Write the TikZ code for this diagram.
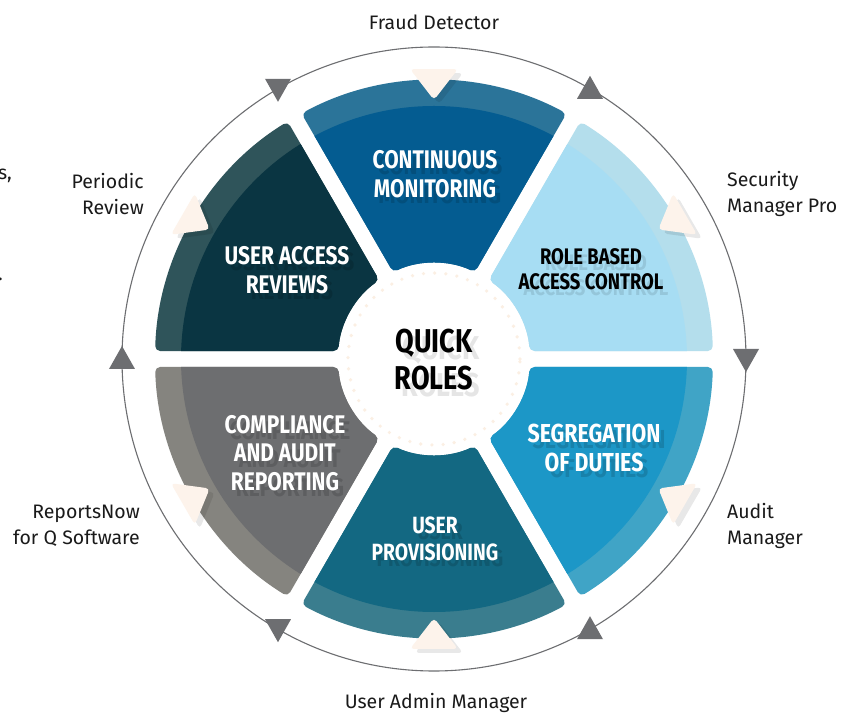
\documentclass[tikz,border=0pt]{standalone}
\usepackage{fontspec}
\setmainfont{Fira Sans}
\newfontfamily\capsfont{Fira Sans}[FakeStretch=0.82]
\definecolor{cmMain}{HTML}{045C91}
\definecolor{cmBand}{HTML}{2B7499}
\definecolor{rbMain}{HTML}{A7DDF3}
\definecolor{rbBand}{HTML}{B4DEEC}
\definecolor{sgMain}{HTML}{1C97C7}
\definecolor{sgBand}{HTML}{40A4C6}
\definecolor{upMain}{HTML}{136882}
\definecolor{upBand}{HTML}{3A7D8E}
\definecolor{caMain}{HTML}{6D6E70}
\definecolor{caBand}{HTML}{85847F}
\definecolor{uaMain}{HTML}{0A3542}
\definecolor{uaBand}{HTML}{2F545A}
\definecolor{paleTri}{HTML}{FDF3EB}
\definecolor{dotCol}{HTML}{FBEFE3}
\definecolor{arrowGray}{HTML}{6D6E71}
\definecolor{txtCol}{HTML}{1A1A1A}
\tikzset{
  outerlbl/.style={text=txtCol, font=\fontsize{19.5}{26}\selectfont, inner sep=0pt},
  seclbl/.style={align=center, inner sep=0pt, font=\capsfont\bfseries\fontsize{#1}{\dimexpr #1pt*112/100\relax}\selectfont},
  shadowtxt/.style={text=black, text opacity=0.14},
}
\begin{document}
\begin{tikzpicture}[x=1pt,y=1pt]
\useasboundingbox (-434,-355) rectangle (422,359);
\fill[white] (-434,-355) rectangle (422,359);

% outer ring
\draw[arrowGray, line width=1.1pt] (0,0) circle (312);

% sectors
\foreach \a/\mc/\bc in {60/cmMain/cmBand, 0/rbMain/rbBand, -60/sgMain/sgBand, -120/upMain/upBand, 180/caMain/caBand, 120/uaMain/uaBand}{
  \pgfmathsetmacro\ao{\a+1.64}
  \pgfmathsetmacro\bo{\a+60-1.64}
  \pgfmathsetmacro\ai{\a+4.78}
  \pgfmathsetmacro\bi{\a+60-4.78}
  \begin{scope}
    \clip[rounded corners=5pt] (\ao:279) arc[start angle=\ao, end angle=\bo, radius=279] -- (\bi:96) arc[start angle=\bi, end angle=\ai, radius=96] -- cycle;
    \fill[\bc] (0,0) circle (290);
    \fill[\mc] (0,0) circle (253);
  \end{scope}
  % pale inward triangle
  \pgfmathsetmacro\t{\a+30}
  \pgfmathsetmacro\tl{\t+4.73}
  \pgfmathsetmacro\tr{\t-4.73}
  \begin{scope}[shift={(5,-4)}]
    \fill[black, opacity=0.09, rounded corners=4pt] (\t:259) -- (\tl:291) -- (\tr:291) -- cycle;
  \end{scope}
  \fill[paleTri, rounded corners=4pt] (\t:259) -- (\tl:291) -- (\tr:291) -- cycle;
}

% ring arrows
\foreach \t/\s in {0/1, 60/-1, 120/1, 180/-1, 240/1, 300/-1}{
  \begin{scope}[shift={(\t:312)}, yscale=\s]
    \fill[arrowGray] (-13,10) -- (13,10) -- (0,-13) -- cycle;
  \end{scope}
}

% center
\fill[white] (0,0) circle (92);
\draw[dotCol, line width=3.6pt, line cap=round, dash pattern=on 0pt off 11.2pt] (0,0) circle (86);

% sector labels (shadows first)
\node[seclbl=25.5, shadowtxt] (cm-s) at (6,179) {CONTINUOUS\\MONITORING};
\node[seclbl=25.5, text=white] (cm) at (1,185) {CONTINUOUS\\MONITORING};

\node[seclbl=22.5, shadowtxt, text opacity=0.1] (rb-s) at (162,84) {ROLE BASED\\ACCESS CONTROL};
\node[seclbl=22.5, text=black] (rb) at (157,90) {ROLE BASED\\ACCESS CONTROL};

\node[seclbl=26, shadowtxt] (sg-s) at (165,-95) {SEGREGATION\\OF DUTIES};
\node[seclbl=26, text=white] (sg) at (160,-89) {SEGREGATION\\OF DUTIES};

\node[seclbl=23.5, shadowtxt] (up-s) at (6,-186) {USER\\PROVISIONING};
\node[seclbl=23.5, text=white] (up) at (1,-180) {USER\\PROVISIONING};

\node[seclbl=25.5, shadowtxt] (ca-s) at (-144,-100) {COMPLIANCE\\AND AUDIT\\REPORTING};
\node[seclbl=25.5, text=white] (ca) at (-149,-94) {COMPLIANCE\\AND AUDIT\\REPORTING};

\node[seclbl=25.5, shadowtxt] (ua-s) at (-142,83) {USER ACCESS\\REVIEWS};
\node[seclbl=25.5, text=white] (ua) at (-147,89) {USER ACCESS\\REVIEWS};

\node[seclbl=33, shadowtxt, text opacity=0.1] (qr-s) at (7,-8) {QUICK\\ROLES};
\node[seclbl=33, text=black] (qr) at (0,-1) {QUICK\\ROLES};

% outer labels
\node[outerlbl] (fd) at (0,337) {Fraud Detector};
\node[outerlbl, anchor=west, align=left] (smp) at (293,165) {Security\\Manager Pro};
\node[outerlbl, anchor=west, align=left] (am) at (293,-167) {Audit\\Manager};
\node[outerlbl] (uam) at (2,-344) {User Admin Manager};
\node[outerlbl, anchor=east, align=right] (rn) at (-294,-167) {ReportsNow\\for Q Software};
\node[outerlbl, anchor=east, align=right] (pr) at (-290,165) {Periodic\\Review};

% cut-off fragments at the left edge
\node[outerlbl, anchor=base east] (frag1) at (-422,179) {s,};
\node[outerlbl, anchor=base west] (frag2) at (-436,78) {.};
\end{tikzpicture}
\end{document}
